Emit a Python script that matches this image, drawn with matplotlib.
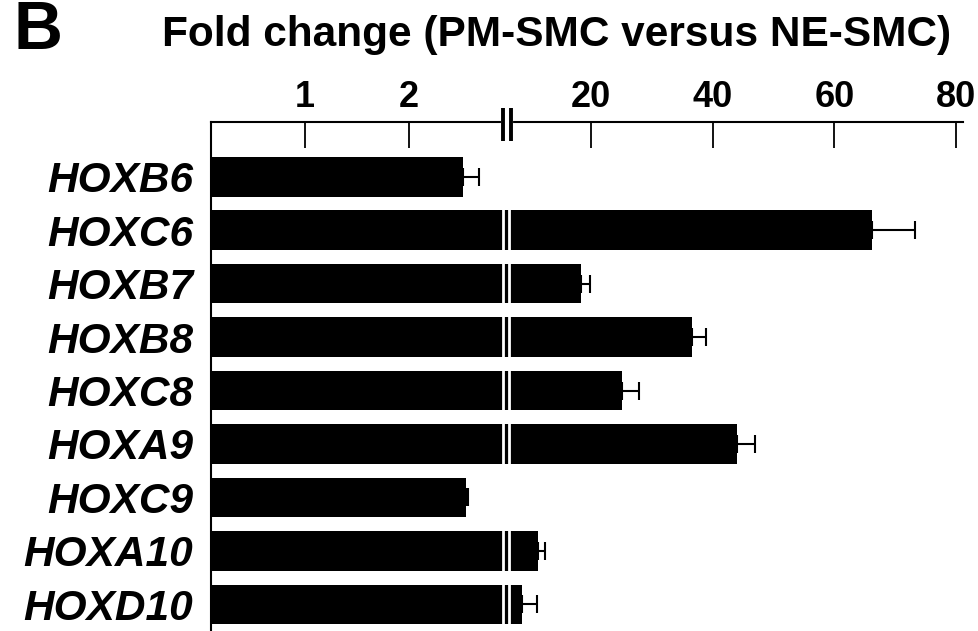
import numpy as np
import matplotlib
matplotlib.use('Agg')
import matplotlib.pyplot as plt

plt.rcParams['font.family'] = ['Liberation Sans', 'DejaVu Sans']

# data
genes = ['HOXB6', 'HOXC6', 'HOXB7', 'HOXB8', 'HOXC8', 'HOXA9', 'HOXC9', 'HOXA10', 'HOXD10']
fold = [2.52, 66.2, 18.4, 36.6, 25.1, 44.0, 2.55, 11.3, 8.7]
err = [0.15, 7.0, 1.5, 2.3, 2.8, 3.0, 0.02, 1.2, 2.4]
xticks = [1, 2, 20, 40, 60, 80]

# broken axis: 0..~2.9 stretched, then jump to ~6 with a compressed scale
B1, B2 = 2.923, 5.93
K1, K2 = 104.0, 6.09
EPS = 0.01


def fwd(x):
    x = np.asarray(x, dtype=float)
    lo = K1 * x
    mid = K1 * B1 + EPS * (x - B1)
    hi = K1 * B1 + EPS * (B2 - B1) + K2 * (x - B2)
    return np.where(x <= B1, lo, np.where(x >= B2, hi, mid))


def inv(f):
    f = np.asarray(f, dtype=float)
    f1 = K1 * B1
    f2 = f1 + EPS * (B2 - B1)
    lo = f / K1
    mid = B1 + (f - f1) / EPS
    hi = B2 + (f - f2) / K2
    return np.where(f <= f1, lo, np.where(f >= f2, hi, mid))


fig = plt.figure(figsize=(9.79, 6.31), dpi=100)
ax = fig.add_axes([211 / 979, 0, (963 - 211) / 979, (631 - 121.7) / 631])
ax.set_xscale('function', functions=(fwd, inv))

y = np.arange(len(genes))
ax.barh(y, fold, height=0.74, color='black', zorder=1,
        xerr=[np.zeros(len(err)), err],
        error_kw=dict(ecolor='black', elinewidth=1.5, capsize=6.8, capthick=1.5))

ax.set_xlim(0.096, 81.1)
ax.set_ylim(8.5, -1.03)

# white cut through the bars at the break
cuts = [2.904, 6.58]
for b in cuts:
    ax.axvline(b, color='white', lw=2.0, zorder=2)

ax.xaxis.tick_top()
ax.set_xticks(xticks)
ax.set_xticklabels([str(t) for t in xticks], fontsize=26, fontweight='bold')
ax.tick_params(axis='x', direction='in', length=19, width=1.3, pad=5)
ax.xaxis.set_minor_locator(matplotlib.ticker.NullLocator())

ax.set_yticks(y)
ax.set_yticklabels(genes, fontsize=30.5, fontweight='bold', fontstyle='italic')
ax.tick_params(axis='y', length=0, pad=13)

for s in ['right', 'bottom']:
    ax.spines[s].set_visible(False)
ax.spines['top'].set_linewidth(1.5)
ax.spines['left'].set_linewidth(1.5)

# break marks on the axis
breaks = [2.899, 6.83]
xt = ax.get_xaxis_transform()
ax.plot(breaks, [1, 1], color='white', lw=3, transform=xt, clip_on=False, zorder=3)
for b in breaks:
    ax.plot([b, b], [0.963, 1.027], color='black', lw=2.8, transform=xt,
            clip_on=False, zorder=4, solid_capstyle='butt')

fig.text(557 / 979, 1 - 35 / 631, 'Fold change (PM-SMC versus NE-SMC)',
         fontsize=30.5, fontweight='bold', ha='center', va='center')
fig.text(14 / 979, 1 - 31 / 631, 'B', fontsize=49, fontweight='bold',
         ha='left', va='center')

fig.savefig('out.png', dpi=100)
